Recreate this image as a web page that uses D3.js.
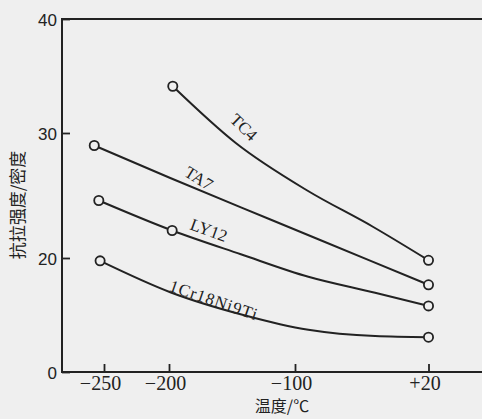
<!DOCTYPE html>
<html><head><meta charset="utf-8">
<script src="https://cdn.jsdelivr.net/npm/d3@7"></script>
<style>html,body{margin:0;padding:0;background:#efefef;}svg{display:block;}</style>
</head><body>
<svg id="c" width="482" height="419"></svg>
<script>
// ---- data ----
const seriesNames = ["TC4", "TA7", "LY12", "1Cr18Ni9Ti"];
const tc4Temp = [-197, -147, -89, -30, 20];
const tc4Val  = [34.1, 29.2, 25.4, 22.5, 19.6];
const tc4Marks = [0, 4];
const ta7Temp = [-257.5, -199, -120, -32, 20];
const ta7Val  = [29.0, 26.4, 23.1, 19.5, 15.3];
const ta7Marks = [0, 4];
const ly12Temp = [-254, -197.5, -143, -88, -28, 20];
const ly12Val  = [24.6, 22.2, 20.3, 16.7, 13.9, 11.6];
const ly12Marks = [0, 1, 5];
const crTemp = [-253, -199, -141, -88, -28, 20];
const crVal  = [19.5, 14.0, 10.0, 7.4, 6.3, 6.1];
const crMarks = [0, 5];
const xTicks = [-250, -200, -100, 20];
const yTicks = [0, 20, 30, 40];
const xTitle = "温度/℃";
const yTitle = "抗拉强度/密度";

const series = [
  {name: seriesNames[0], t: tc4Temp, v: tc4Val, m: tc4Marks},
  {name: seriesNames[1], t: ta7Temp, v: ta7Val, m: ta7Marks},
  {name: seriesNames[2], t: ly12Temp, v: ly12Val, m: ly12Marks},
  {name: seriesNames[3], t: crTemp, v: crVal, m: crMarks}
];

// ---- layout ----
const mLeft = 62, mRight = 482, mTop = 19, mBottom = 372;
const ink = "#222";
const bg = "#efefef";
const svg = d3.select("#c");

// hand-drawn axes are not uniform: piecewise linear scales
const x = d3.scaleLinear().domain(xTicks).range([104, 169, 295, 428.5]);
const y = d3.scaleLinear().domain(yTicks).range([mBottom, 258, 133, mTop]);

// frame
svg.append("path").attr("d", `M${mRight},${mTop}H${mLeft}V${mBottom}H${mRight}`)
  .attr("stroke", ink).attr("stroke-width", 2).attr("fill", "none");

// x axis
const fmtX = d => d > 0 ? "+" + d : "\u2212" + Math.abs(d);
const gx = svg.append("g").attr("transform", `translate(0,${mBottom})`)
  .call(d3.axisBottom(x).tickValues(xTicks).tickFormat(fmtX).tickSizeInner(-8).tickSizeOuter(0).tickPadding(6));
gx.select(".domain").remove();
gx.selectAll(".tick line").attr("stroke", ink).attr("stroke-width", 1.8);
gx.selectAll(".tick text").attr("fill", ink).attr("font-family", "Liberation Serif")
  .attr("font-size", 20).attr("dx", -4).attr("y", 18).attr("dy", 0);

// y axis
const gy = svg.append("g").attr("transform", `translate(${mLeft},0)`)
  .call(d3.axisLeft(y).tickValues(yTicks).tickSizeInner(-8).tickSizeOuter(0).tickPadding(5));
gy.select(".domain").remove();
gy.selectAll(".tick line").attr("stroke", ink).attr("stroke-width", 1.8);
gy.selectAll(".tick text").attr("fill", ink).attr("font-family", "Liberation Sans")
  .attr("font-size", 17).attr("dy", "0.36em");

// titles
svg.append("text").attr("x", 282).attr("y", 412).attr("text-anchor", "middle")
  .attr("font-family", "Noto Sans CJK SC").attr("font-size", 16).attr("fill", ink).text(xTitle);
svg.append("text").attr("transform", "translate(24,205) rotate(-90)").attr("text-anchor", "middle")
  .attr("font-family", "Noto Sans CJK SC").attr("font-size", 17).attr("fill", ink).text(yTitle);

// curves
const line = d3.line().x(d => x(d[0])).y(d => y(d[1])).curve(d3.curveMonotoneX);
series.forEach(s => {
  const pts = s.t.map((t, i) => [t, s.v[i]]);
  svg.append("path").attr("d", line(pts)).attr("fill", "none").attr("stroke", ink).attr("stroke-width", 2);
  svg.selectAll(null).data(s.m.map(i => pts[i])).enter().append("circle")
    .attr("cx", d => x(d[0])).attr("cy", d => y(d[1])).attr("r", 4.6)
    .attr("fill", bg).attr("stroke", ink).attr("stroke-width", 1.8);
});

// curve labels
const labelPos = [
  {cx: 244, cy: 127, a: 44, ls: 0},
  {cx: 199, cy: 178, a: 32, ls: 0},
  {cx: 209, cy: 230, a: 20, ls: 0},
  {cx: 214, cy: 300, a: 19, ls: 1}
];
series.forEach((s, i) => {
  const p = labelPos[i];
  svg.append("text").attr("transform", `translate(${p.cx},${p.cy}) rotate(${p.a})`)
    .attr("text-anchor", "middle").attr("dy", "0.35em")
    .attr("font-family", "Liberation Serif").attr("font-size", 17)
    .attr("letter-spacing", p.ls).attr("fill", ink).text(s.name);
});
</script>
</body></html>
